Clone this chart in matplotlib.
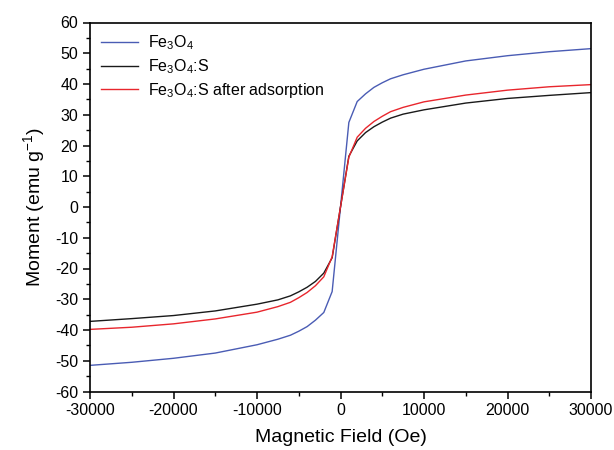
import matplotlib
matplotlib.use("Agg")
import matplotlib.pyplot as plt
from matplotlib.ticker import MultipleLocator

plt.rcParams['font.family'] = ['Liberation Sans', 'DejaVu Sans']
plt.rcParams['mathtext.fontset'] = 'custom'
plt.rcParams['mathtext.rm'] = 'Liberation Sans'
plt.rcParams['mathtext.it'] = 'Liberation Sans'
plt.rcParams['axes.unicode_minus'] = False

field = [-30000, -25000, -20000, -15000, -10000, -7500, -6000, -5000, -4000, -3000, -2000, -1000, 0,
         1000, 2000, 3000, 4000, 5000, 6000, 7500, 10000, 15000, 20000, 25000, 30000]
fe3o4 = [-51.5, -50.5, -49.2, -47.5, -44.8, -43.0, -41.7, -40.4, -38.9, -36.8, -34.3, -27.5, 0,
         27.5, 34.3, 36.8, 38.9, 40.4, 41.7, 43.0, 44.8, 47.5, 49.2, 50.5, 51.5]
fe3o4_s = [-37.2, -36.3, -35.3, -33.8, -31.6, -30.2, -28.9, -27.6, -26.1, -24.2, -21.5, -16.5, 0,
           16.5, 21.5, 24.2, 26.1, 27.6, 28.9, 30.2, 31.6, 33.8, 35.3, 36.3, 37.2]
fe3o4_s_ads = [-39.8, -39.1, -38.0, -36.4, -34.2, -32.4, -31.0, -29.5, -27.8, -25.6, -22.7, -16.2, 0,
               16.2, 22.7, 25.6, 27.8, 29.5, 31.0, 32.4, 34.2, 36.4, 38.0, 39.1, 39.8]

labels = ['Fe$_3$O$_4$', 'Fe$_3$O$_4$:S', 'Fe$_3$O$_4$:S after adsorption']
colors = ['#4a5cb4', '#1a1a1a', '#e8262d']

fig = plt.figure(figsize=(6.14, 4.5), dpi=100)
ax = fig.add_axes([90/614, 1-391.5/450, (591-90)/614, (391.5-22.5)/450])

for ys, lab, c in zip([fe3o4, fe3o4_s, fe3o4_s_ads], labels, colors):
    ax.plot(field, ys, color=c, lw=1.0, label=lab)

ax.set_xlim(-30000, 30000)
ax.set_ylim(-60, 60)
ax.xaxis.set_major_locator(MultipleLocator(10000))
ax.xaxis.set_minor_locator(MultipleLocator(5000))
ax.yaxis.set_major_locator(MultipleLocator(10))
ax.yaxis.set_minor_locator(MultipleLocator(5))
ax.tick_params(which='major', direction='out', length=5, width=1.1, labelsize=11.5)
ax.tick_params(which='minor', direction='out', length=3, width=1.0)
for s in ax.spines.values():
    s.set_linewidth(1.2)

ax.set_xlabel('Magnetic Field (Oe)', fontsize=14, labelpad=8)
ax.set_ylabel('Moment (emu g$^{-1}$)', fontsize=14, labelpad=6)

ax.legend(loc='upper left', frameon=False, fontsize=11.5, handlelength=2.3,
          labelspacing=0.3, borderaxespad=0.3, handletextpad=0.6)

fig.savefig('out.png', dpi=100)
